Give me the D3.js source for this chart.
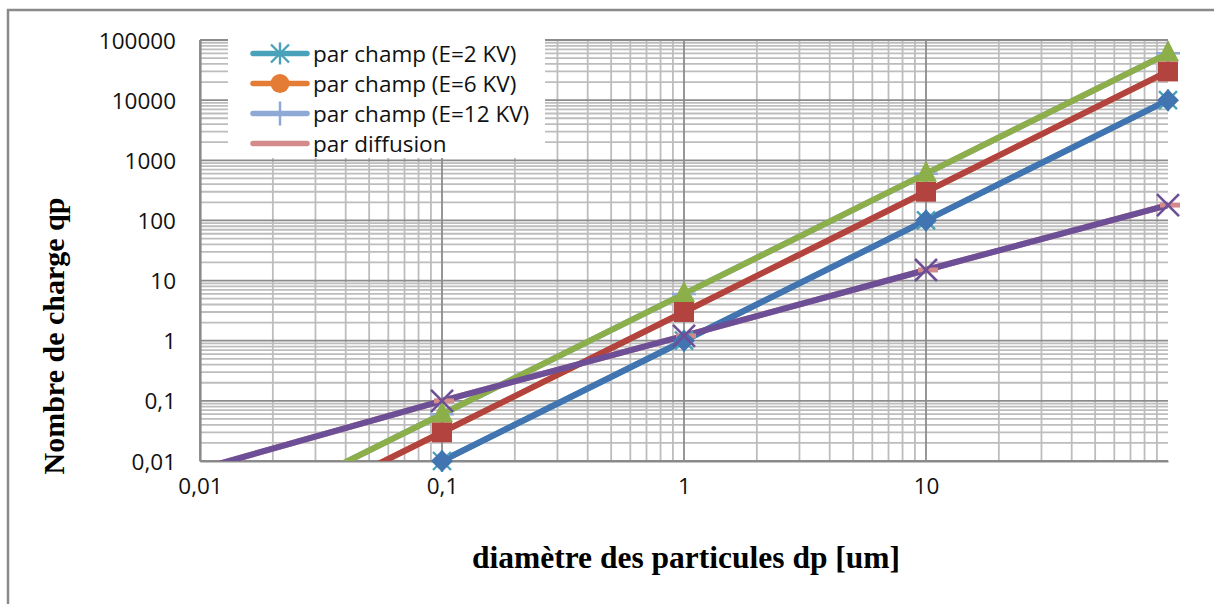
<!DOCTYPE html>
<html>
<head>
<meta charset="utf-8">
<script src="https://cdn.jsdelivr.net/npm/d3@7"></script>
<style>
  body { margin: 0; background: #fff; }
  svg { display: block; }
</style>
</head>
<body>
<svg width="1214" height="604"></svg>
<script>
// data
var diametres = [0.01, 0.1, 1, 10, 100];
var champE2 = [0.0001, 0.01, 1, 100, 10000];
var champE6 = [0.0003, 0.03, 3, 300, 30000];
var champE12 = [0.0006, 0.06, 6, 600, 60000];
var diffusion = [0.0073, 0.1, 1.2, 15, 180];

var xTickValues = [0.01, 0.1, 1, 10];
var yTickValues = [0.01, 0.1, 1, 10, 100, 1000, 10000, 100000];
var legendLabels = ["par champ (E=2 KV)", "par champ (E=6 KV)", "par champ (E=12 KV)", "par diffusion"];

var svg = d3.select("svg"),
	margin = {top: 40, right: 46, bottom: 143, left: 200},
	width = +svg.attr("width") - margin.left - margin.right,
	height = +svg.attr("height") - margin.top - margin.bottom;

// chart frame (left and top only)
svg.append("path")
	.attr("d", "M8,604V10H1214")
	.attr("fill", "none")
	.attr("stroke", "#8a8a8a")
	.attr("stroke-width", 2.5);

var g = svg.append("g").attr("transform", "translate(" + margin.left + "," + margin.top + ")");

var x = d3.scaleLog().domain([0.01, 100]).range([0, width]);
var y = d3.scaleLog().domain([0.01, 100000]).range([height, 0]);

var fmt = function (d) { return String(d).replace(".", ","); };

// grid lines
var xMinor = x.ticks().filter(function (d) { return d < 100; });
var yMinor = y.ticks();
var isMajor = function (d) { return Math.abs(Math.log10(d) - Math.round(Math.log10(d))) < 1e-9; };

var grid = g.append("g");
grid.selectAll(".gx").data(xMinor.filter(function (d) { return !isMajor(d); }))
	.enter().append("line")
	.attr("x1", x).attr("x2", x).attr("y1", 0).attr("y2", height)
	.attr("stroke", "#bdbdbd").attr("stroke-width", 1.8);
grid.selectAll(".gy").data(yMinor.filter(function (d) { return !isMajor(d); }))
	.enter().append("line")
	.attr("x1", 0).attr("x2", width).attr("y1", y).attr("y2", y)
	.attr("stroke", "#bdbdbd").attr("stroke-width", 1.8);
grid.selectAll(".gxm").data(xTickValues)
	.enter().append("line")
	.attr("x1", x).attr("x2", x).attr("y1", 0).attr("y2", height)
	.attr("stroke", "#8c8c8c").attr("stroke-width", 1.8);
grid.selectAll(".gym").data(yTickValues)
	.enter().append("line")
	.attr("x1", 0).attr("x2", width).attr("y1", y).attr("y2", y)
	.attr("stroke", "#8c8c8c").attr("stroke-width", 1.8);

// axes
var xAxis = g.append("g")
	.attr("transform", "translate(0," + height + ")")
	.call(d3.axisBottom(x).tickValues(xTickValues).tickFormat(fmt).tickSize(0).tickPadding(17));
var yAxis = g.append("g")
	.call(d3.axisLeft(y).tickValues(yTickValues).tickFormat(fmt).tickSize(0).tickPadding(24));
[xAxis, yAxis].forEach(function (a) {
	a.select(".domain").attr("stroke", "#8a8a8a").attr("stroke-width", 2.2);
	a.selectAll("text")
		.attr("font-family", "'Open Sans', sans-serif")
		.attr("font-size", 22.5)
		.attr("fill", "#111");
});
yAxis.selectAll("text").attr("dy", "0.36em");

// series
var series = [
	{values: champE2, color: "#4aa2ba", marker: "star"},
	{values: champE6, color: "#e47c35", marker: "circle"},
	{values: champE12, color: "#8ea9d6", marker: "plus"},
	{values: diffusion, color: "#d48a8a", marker: "dash"},
	{values: champE2, color: "#4174b0", marker: "diamond"},
	{values: champE6, color: "#b3433f", marker: "square"},
	{values: champE12, color: "#8daf4a", marker: "triangle"},
	{values: diffusion, color: "#6d4f97", marker: "cross"}
];

var markerPath = {
	star: "M-9,-9L9,9M-9,9L9,-9M0,-11V11",
	circle: d3.symbol().type(d3.symbolCircle).size(280)(),
	plus: "M-12,0H12M0,-12V12",
	dash: "M-8,0H12",
	diamond: "M0,-11L11,0L0,11L-11,0Z",
	square: "M-10,-10H10V10H-10Z",
	triangle: "M0,-13L11,8H-11Z",
	cross: "M-11,-11L11,11M-11,11L11,-11"
};
var strokeMarkers = {star: 2.4, plus: 2.5, dash: 5, cross: 2.6};

svg.append("defs").append("clipPath").attr("id", "plot-clip")
	.append("rect").attr("width", width).attr("height", height);

var line = d3.line()
	.x(function (d) { return x(d[0]); })
	.y(function (d) { return y(d[1]); });

var lines = g.append("g").attr("clip-path", "url(#plot-clip)");
var marks = g.append("g");

function drawMarker(sel, s) {
	var p = sel.append("path").attr("d", markerPath[s.marker]);
	if (strokeMarkers[s.marker]) {
		p.attr("fill", "none").attr("stroke", s.color).attr("stroke-width", strokeMarkers[s.marker]);
	} else {
		p.attr("fill", s.color);
	}
}

series.forEach(function (s) {
	var pts = diametres.map(function (d, i) { return [d, s.values[i]]; });
	lines.append("path")
		.datum(pts)
		.attr("fill", "none")
		.attr("stroke", s.color)
		.attr("stroke-width", 6)
		.attr("stroke-linejoin", "round")
		.attr("d", line);
	var inside = pts.filter(function (p) { return p[1] >= 0.01; });
	marks.selectAll(null).data(inside).enter().append("g")
		.attr("transform", function (p) { return "translate(" + x(p[0]) + "," + y(p[1]) + ")"; })
		.each(function () { drawMarker(d3.select(this), s); });
});

// legend
var legend = g.append("g").attr("transform", "translate(28,-4)");
legend.append("rect")
	.attr("width", 317).attr("height", 122)
	.attr("fill", "#fff");
var items = legend.selectAll(".item")
	.data(series.slice(0, 4))
	.enter().append("g")
	.attr("transform", function (d, i) { return "translate(0," + (17.5 + i * 30) + ")"; });
items.append("line")
	.attr("x1", 25).attr("x2", 79)
	.attr("stroke", function (d) { return d.color; })
	.attr("stroke-width", 5.5)
	.attr("stroke-linecap", "round");
items.append("g")
	.attr("transform", "translate(52,0)")
	.each(function (d) { if (d.marker !== "dash") drawMarker(d3.select(this), d); });
items.append("text")
	.attr("x", 85)
	.attr("dy", "0.36em")
	.attr("font-family", "'Open Sans', sans-serif")
	.attr("font-size", 22.5)
	.attr("fill", "#111")
	.text(function (d, i) { return legendLabels[i]; });

// axis titles
svg.append("text")
	.attr("transform", "translate(64,336) rotate(-90)")
	.attr("text-anchor", "middle")
	.attr("font-family", "'Liberation Serif', serif")
	.attr("font-weight", "bold")
	.attr("font-size", 30)
	.attr("fill", "#000")
	.text("Nombre de charge qp");
svg.append("text")
	.attr("x", 686)
	.attr("y", 568)
	.attr("text-anchor", "middle")
	.attr("font-family", "'Liberation Serif', serif")
	.attr("font-weight", "bold")
	.attr("font-size", 31.5)
	.attr("fill", "#000")
	.text("diamètre des particules dp [um]");
</script>
</body>
</html>
